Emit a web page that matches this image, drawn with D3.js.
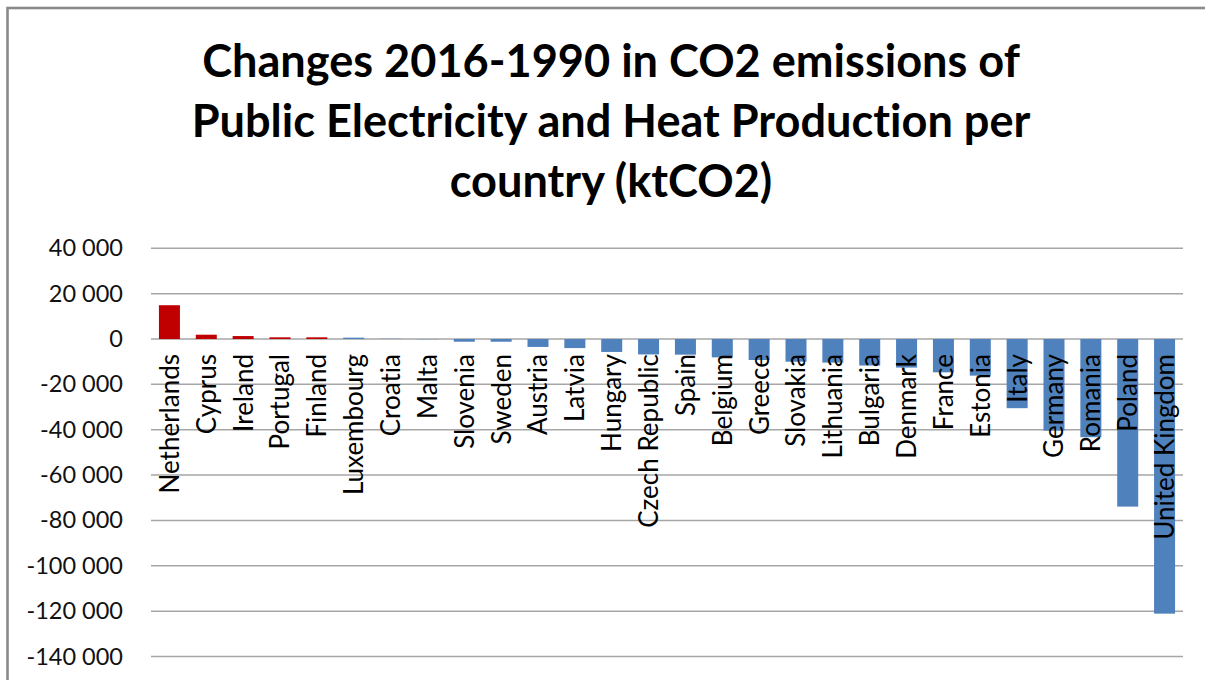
<!DOCTYPE html>
<html>
<head>
<meta charset="utf-8">
<script src="https://cdn.jsdelivr.net/npm/d3@7"></script>
<style>
  html, body { margin: 0; padding: 0; background: #fff; }
  svg { display: block; }
  text { font-variant-ligatures: none; font-feature-settings: "liga" 0, "clig" 0; }
</style>
</head>
<body>
<svg id="chart" width="1205" height="680"></svg>
<script>
const titleLines = ["Changes 2016-1990 in CO2 emissions of", "Public Electricity and Heat Production per", "country (ktCO2)"];
const countries = ["Netherlands","Cyprus","Ireland","Portugal","Finland","Luxembourg","Croatia","Malta","Slovenia","Sweden","Austria","Latvia","Hungary","Czech Republic","Spain","Belgium","Greece","Slovakia","Lithuania","Bulgaria","Denmark","France","Estonia","Italy","Germany","Romania","Poland","United Kingdom"];
const values = [14900, 1900, 1300, 750, 750, 600, 100, -100, -1200, -1200, -3500, -4000, -5700, -6800, -6900, -8100, -9250, -10000, -10400, -11700, -12600, -14700, -16150, -30500, -40400, -43300, -73900, -121100];
const barColors = ["#C00000","#C00000","#C00000","#C00000","#C00000","#4F81BD","#4F81BD","#4F81BD","#4F81BD","#4F81BD","#4F81BD","#4F81BD","#4F81BD","#4F81BD","#4F81BD","#4F81BD","#4F81BD","#4F81BD","#4F81BD","#4F81BD","#4F81BD","#4F81BD","#4F81BD","#4F81BD","#4F81BD","#4F81BD","#4F81BD","#4F81BD"];
const yTicks = [40000, 20000, 0, -20000, -40000, -60000, -80000, -100000, -120000, -140000];

const svg = d3.select("#chart");
const font = "Lato, Calibri, 'Open Sans', sans-serif";

// outer chart border (extends past the window on right/bottom)
svg.append("rect").attr("x", 7.5).attr("y", 8).attr("width", 1400).attr("height", 900)
  .attr("fill", "none").attr("stroke", "#8a8a8a").attr("stroke-width", 2.6);

const x = d3.scaleBand().domain(countries).range([151, 1183]).paddingInner(0.43).paddingOuter(0.215);
const y = d3.scaleLinear().domain([-140000, 40000]).range([656.5, 248.3]);

// gridlines
svg.append("g").selectAll("line").data(yTicks).join("line")
  .attr("x1", 151).attr("x2", 1183)
  .attr("y1", d => y(d)).attr("y2", d => y(d))
  .attr("stroke", "#a6a6a6").attr("stroke-width", 1.5);

// y axis labels
const fmt = v => {
  const s = Math.abs(v).toString().replace(/\B(?=(\d{3})+(?!\d))/g, " ");
  return (v < 0 ? "-" : "") + s;
};
const yAxis = d3.axisLeft(y).tickValues(yTicks).tickFormat(fmt).tickSize(0).tickPadding(0);
const ya = svg.append("g").attr("transform", "translate(123,0)").call(yAxis);
ya.select(".domain").remove();
ya.selectAll("text").attr("font-family", font).attr("font-size", 23.5).attr("fill", "#111");

// bars
svg.append("g").selectAll("rect").data(values).join("rect")
  .attr("x", (d, i) => x(countries[i]))
  .attr("width", x.bandwidth())
  .attr("y", d => y(Math.max(0, d)))
  .attr("height", d => Math.abs(y(d) - y(0)))
  .attr("fill", (d, i) => barColors[i]);

// category labels (rotated)
svg.append("g").selectAll("text").data(countries).join("text")
  .attr("transform", d => `translate(${x(d) + x.bandwidth() / 2},354) rotate(-90)`)
  .attr("text-anchor", "end")
  .attr("dy", "0.36em")
  .attr("font-family", font).attr("font-size", 26).attr("fill", "#000")
  .text(d => d);

// title
const tg = svg.append("g");
const tl = tg.selectAll("text").data(titleLines).join("text")
  .attr("x", 611).attr("y", (d, i) => 77 + i * 60)
  .attr("text-anchor", "middle")
  .attr("font-family", font).attr("font-weight", "bold").attr("font-size", 40).attr("fill", "#000")
  .text(d => d);
const w0 = tl.nodes()[0].getComputedTextLength();
const fs = 40 * 818 / w0;
tl.attr("font-size", fs);
</script>
</body>
</html>
